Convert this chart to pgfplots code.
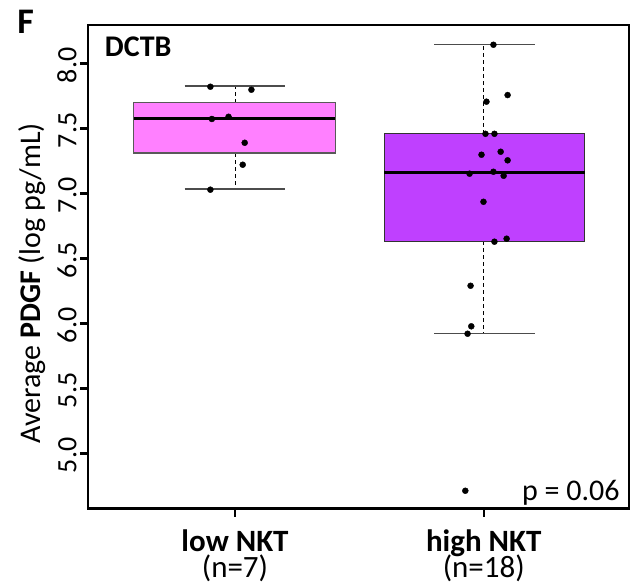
\documentclass[border=0pt]{standalone}
\usepackage{fontspec}
\setmainfont{Carlito}
\usepackage{pgfplots}
\pgfplotsset{compat=1.18}

\definecolor{lowfill}{HTML}{FF80FF}
\definecolor{highfill}{HTML}{BF40FF}

\tikzset{
  whiskerline/.style={black, line width=0.9bp, dash pattern=on 4bp off 3bp},
  whiskercap/.style={black!70, line width=1.2bp, solid},
  medianline/.style={black, line width=3bp},
}

\begin{document}
\begin{tikzpicture}
\begin{axis}[
  scale only axis,
  width=541bp, height=483.7bp,
  xmin=0.409, xmax=2.584,
  ymin=4.574, ymax=8.295,
  clip=false,
  axis line style={line width=2.6bp},
  tick align=outside,
  tick pos=left,
  major tick length=8bp,
  major tick style={line width=2.4bp, black},
  xtick={1,2},
  xticklabels={{\textbf{low NKT}\\(n=7)},{\textbf{high NKT}\\(n=18)}},
  xticklabel style={align=center, anchor=north, yshift=-10bp,
    font={\fontsize{31bp}{26bp}\selectfont\lineskiplimit=-50bp}},
  ytick={5,5.5,6,6.5,7,7.5,8},
  yticklabel style={rotate=90, anchor=south, xshift=-2bp,
    font=\fontsize{28bp}{30bp}\selectfont,
    /pgf/number format/.cd, fixed, fixed zerofill, precision=1,
    assume math mode=true},
  ylabel={Average \textbf{PDGF} (log pg/mL)},
  ylabel style={font=\fontsize{30bp}{36bp}\selectfont, anchor=center,
    at={(axis description cs:-0.1035,0.466)}, rotate=0},
]

% ---- low NKT (n=7) ----
% whiskers: dashed stems, then caps
\addplot[whiskerline] coordinates {(1,7.697) (1,7.825)};
\addplot[whiskerline] coordinates {(1,7.310) (1,7.033)};
\addplot[whiskercap] coordinates {(0.797,7.825) (1.199,7.825)};
\addplot[whiskercap] coordinates {(0.797,7.033) (1.199,7.033)};
% box (Q1 to Q3) and median
\addplot[fill=lowfill, draw=black!65, line width=1.2bp]
  coordinates {(0.593,7.310) (1.403,7.310) (1.403,7.697) (0.593,7.697)} --cycle;
\addplot[medianline] coordinates {(0.593,7.579) (1.403,7.579)};

% ---- high NKT (n=18) ----
\addplot[whiskerline] coordinates {(2,7.458) (2,8.146)};
\addplot[whiskerline] coordinates {(2,6.631) (2,5.920)};
\addplot[whiskercap] coordinates {(1.801,8.146) (2.206,8.146)};
\addplot[whiskercap] coordinates {(1.801,5.920) (2.206,5.920)};
\addplot[fill=highfill, draw=black!80, line width=1.2bp]
  coordinates {(1.600,6.631) (2.406,6.631) (2.406,7.458) (1.600,7.458)} --cycle;
\addplot[medianline] coordinates {(1.600,7.158) (2.406,7.158)};

% individual samples (jittered)
\addplot[only marks, mark=*, mark size=3bp, black] coordinates {
  (0.901,7.820) (1.066,7.797) (0.907,7.572) (0.974,7.589)
  (1.039,7.389) (1.031,7.220) (0.901,7.028)
};
\addplot[only marks, mark=*, mark size=3bp, black] coordinates {
  (2.039,8.143) (2.096,7.756) (2.011,7.705) (2.007,7.458)
  (2.043,7.458) (2.068,7.320) (1.991,7.297) (2.096,7.254)
  (1.943,7.151) (2.039,7.166) (2.080,7.135) (1.999,6.935)
  (2.043,6.628) (2.092,6.651) (1.947,6.289) (1.950,5.977)
  (1.935,5.920) (1.926,4.712)
};

\node[anchor=base west, inner sep=0pt, font=\fontsize{30bp}{36bp}\selectfont\bfseries]
  at (axis description cs:0.031,0.934) {DCTB};
\node[anchor=base east, inner sep=0pt, font=\fontsize{30bp}{36bp}\selectfont]
  at (axis description cs:0.983,0.0165) {p = 0.06};
\node[anchor=base west, inner sep=0pt, font=\fontsize{36bp}{40bp}\selectfont\bfseries]
  at (axis description cs:-0.131,0.983) {F};
\end{axis}
\pgfresetboundingbox
\path (-88bp,-78.3bp) rectangle (547bp,508.7bp);
\end{tikzpicture}
\end{document}
